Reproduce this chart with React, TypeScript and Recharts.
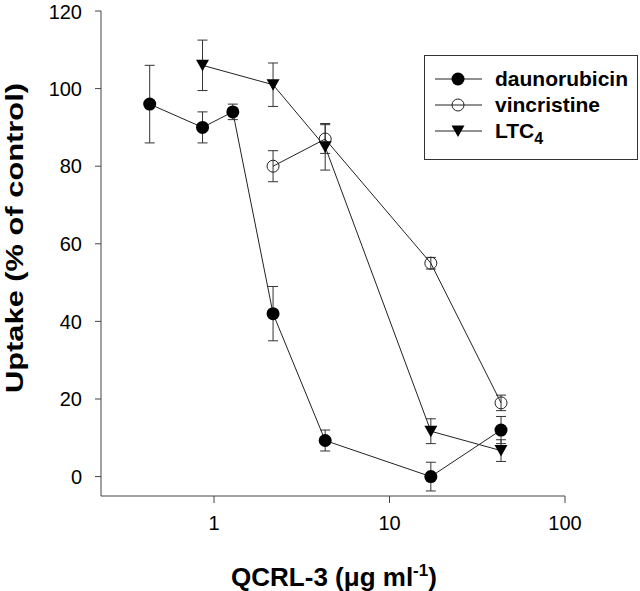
import React from "react";
import { ComposedChart, Scatter, XAxis, YAxis, ErrorBar, Label } from "recharts";

// concentrations of QCRL-3 (ug/ml)
const daunoX = [0.43, 0.86, 1.28, 2.17, 4.3, 17.2, 43.2];
const daunoY = [96, 90, 94, 42, 9.3, 0, 12];
const daunoErr = [10, 4, 2, 7, 2.7, 3.7, 3.5];

const vincX = [2.17, 4.3, 17.2, 43.2];
const vincY = [80, 87, 55, 19];
const vincErr = [4, 3.7, 1.5, 2];

const ltcX = [0.86, 2.17, 4.3, 17.2, 43.2];
const ltcY = [106, 101, 85, 11.7, 6.7];
const ltcErr = [6.5, 5.6, 6, 3.2, 2.8];

const xTicks = [1, 10, 100];
const yTicks = [0, 20, 40, 60, 80, 100, 120];

const FONT = "'Liberation Sans', Arial, sans-serif";
const INK = "#222";

const build = (xs: number[], ys: number[], es: number[]) =>
  xs.map((x, i) => ({ x, y: ys[i], err: es[i] }));

const FilledDot = (p: any) => <circle cx={p.cx} cy={p.cy} r={6.5} fill="#000" />;
const OpenDot = (p: any) => (
  <circle cx={p.cx} cy={p.cy} r={6} fill="none" stroke={INK} strokeWidth={1} />
);
const Tri = (p: any) => (
  <polygon
    points={`${p.cx - 6.5},${p.cy - 5.5} ${p.cx + 6.5},${p.cy - 5.5} ${p.cx},${p.cy + 6}`}
    fill="#000"
  />
);

const legendRows = [
  { name: "daunorubicin", marker: "filled" },
  { name: "vincristine", marker: "open" },
  { name: "LTC", sub: "4", marker: "tri" },
];

function LegendBox() {
  return (
    <svg
      width={215}
      height={106}
      style={{ position: "absolute", left: 424, top: 55, fontFamily: FONT }}
    >
      <rect x={0.5} y={0.5} width={213} height={104} fill="#fff" stroke="#333" />
      {legendRows.map((r, i) => {
        const y = 24 + i * 26;
        return (
          <g key={r.name}>
            <line x1={11} x2={58} y1={y} y2={y} stroke={INK} />
            {r.marker === "filled" && <FilledDot cx={34} cy={y} />}
            {r.marker === "open" && <OpenDot cx={34} cy={y} />}
            {r.marker === "tri" && <Tri cx={34} cy={y} />}
            <text x={71} y={y + 7} fontSize={21} fontWeight="bold" fill="#000">
              {r.name}
              {r.sub && (
                <tspan dy={6} fontSize={16}>
                  {r.sub}
                </tspan>
              )}
            </text>
          </g>
        );
      })}
    </svg>
  );
}

export default function App() {
  const dauno = build(daunoX, daunoY, daunoErr);
  const vinc = build(vincX, vincY, vincErr);
  const ltc = build(ltcX, ltcY, ltcErr);

  return (
    <div style={{ position: "absolute", left: 0, top: 0, width: 640, height: 591, background: "#fff" }}>
      <ComposedChart
        width={640}
        height={591}
        margin={{ top: 11, right: 75, left: 0, bottom: 35 }}
        style={{ fontFamily: FONT }}
      >
        <XAxis
          dataKey="x"
          type="number"
          scale="log"
          domain={[0.227, 100]}
          allowDataOverflow
          ticks={xTicks}
          height={60}
          tickSize={7}
          tickMargin={13}
          stroke="#444"
          tick={{ fill: "#000", fontSize: 20 }}
        >
          <Label
            content={(props: any) => {
              const vb = props.viewBox;
              return (
                <text
                  x={vb.x + vb.width / 2 + 1}
                  y={586}
                  textAnchor="middle"
                  fontSize={26}
                  fontWeight="bold"
                  fill="#000"
                >
                  QCRL-3 (μg ml
                  <tspan dy={-10} fontSize={17}>
                    -1
                  </tspan>
                  <tspan dy={10}>)</tspan>
                </text>
              );
            }}
          />
        </XAxis>
        <YAxis
          dataKey="y"
          type="number"
          domain={[-5, 120]}
          allowDataOverflow
          ticks={yTicks}
          width={101}
          tickSize={6}
          tickMargin={13}
          stroke="#444"
          tick={{ fill: "#000", fontSize: 20 }}
        >
          <Label
            content={() => (
              <text
                transform="translate(23,238) rotate(-90)"
                textAnchor="middle"
                fontSize={24}
                fontWeight="bold"
                fill="#000"
                textLength={310}
                lengthAdjust="spacingAndGlyphs"
              >
                Uptake (% of control)
              </text>
            )}
          />
        </YAxis>
        <Scatter
          name="daunorubicin"
          data={dauno}
          line={{ stroke: INK, strokeWidth: 1 }}
          shape={FilledDot}
          isAnimationActive={false}
        >
          <ErrorBar dataKey="err" direction="y" width={5} stroke="#333" strokeWidth={1} />
        </Scatter>
        <Scatter
          name="vincristine"
          data={vinc}
          line={{ stroke: INK, strokeWidth: 1 }}
          shape={OpenDot}
          isAnimationActive={false}
        >
          <ErrorBar dataKey="err" direction="y" width={5} stroke="#333" strokeWidth={1} />
        </Scatter>
        <Scatter
          name="LTC4"
          data={ltc}
          line={{ stroke: INK, strokeWidth: 1 }}
          shape={Tri}
          isAnimationActive={false}
        >
          <ErrorBar dataKey="err" direction="y" width={5} stroke="#333" strokeWidth={1} />
        </Scatter>
      </ComposedChart>
      <LegendBox />
    </div>
  );
}
